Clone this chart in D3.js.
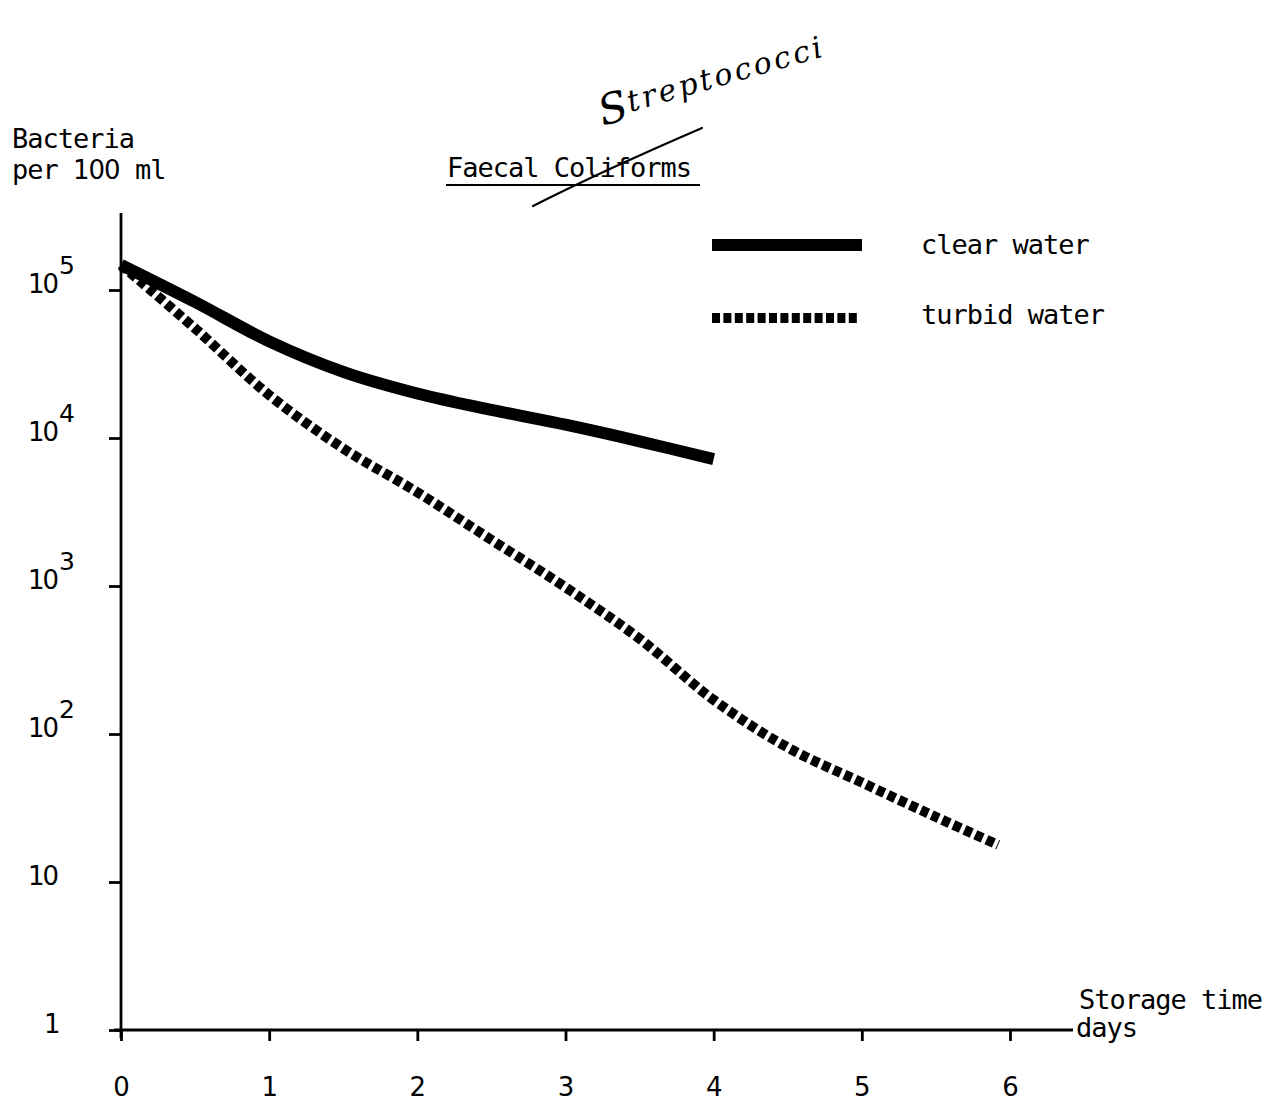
<!DOCTYPE html>
<html>
<head>
<meta charset="utf-8">
<script src="https://cdn.jsdelivr.net/npm/d3@7"></script>
<style>
  html, body { margin: 0; padding: 0; background: #fff; }
  svg { display: block; }
  .mono { font-family: "DejaVu Sans Mono", "Liberation Mono", monospace; fill: #000; letter-spacing: -1px; }
  .num { font-family: "DejaVu Sans", "Noto Sans", sans-serif; fill: #000; }
</style>
</head>
<body>
<svg id="chart" width="1270" height="1102"></svg>
<script>
// Survival of faecal coliforms in stored water (log scale)
const clearDays   = [0, 0.5, 1, 1.5, 2, 2.5, 3, 3.5, 4];
const clearValues = [148000, 83000, 45000, 28000, 20000, 15500, 12300, 9500, 7200];

const turbidDays   = [0, 0.5, 1, 1.5, 2, 2.5, 3, 3.5, 4, 4.5, 5, 5.5, 5.92];
const turbidValues = [148000, 55000, 19500, 8500, 4300, 2050, 980, 440, 170, 81, 47, 27.5, 17.8];

const xTicks = [0, 1, 2, 3, 4, 5, 6];
const yTicks = [1, 10, 100, 1000, 10000, 100000];
const yTickBase = ["1", "10", "10", "10", "10", "10"];
const yTickExp  = ["", "", "2", "3", "4", "5"];

const seriesNames = ["clear water", "turbid water"];

const svg = d3.select("#chart");

const x = d3.scaleLinear().domain([0, 6]).range([121, 1010]);
const y = d3.scaleLog().domain([1, 100000]).range([1030, 290]);

const axisStroke = 2.8;

// y axis
const yAxis = svg.append("g").attr("transform", "translate(121,0)")
  .call(d3.axisLeft(y).tickValues(yTicks).tickSize(12).tickFormat(""));
yAxis.select(".domain").remove();
yAxis.selectAll(".tick line").attr("stroke", "#000").attr("stroke-width", axisStroke);
svg.append("line")
  .attr("x1", 121).attr("x2", 121)
  .attr("y1", 213).attr("y2", y(1) + 8)
  .attr("stroke", "#000").attr("stroke-width", axisStroke);

// y tick labels with superscript exponents
yTicks.forEach((v, i) => {
  const t = svg.append("text").attr("class", "num")
    .attr("x", yTickBase[i] === "1" ? 44 : 28)
    .attr("y", y(v) + 3)
    .attr("font-size", 26)
    .attr("letter-spacing", -2)
    .text(yTickBase[i]);
  if (yTickExp[i]) {
    t.append("tspan").attr("dy", -19).attr("dx", 2).attr("font-size", 25).text(yTickExp[i]);
  }
});

// x axis
const xAxis = svg.append("g").attr("transform", `translate(0,${y(1)})`)
  .call(d3.axisBottom(x).tickValues(xTicks).tickSize(11).tickSizeOuter(0).tickFormat(d3.format("d")));
xAxis.select(".domain").remove();
xAxis.selectAll(".tick line").attr("stroke", "#000").attr("stroke-width", axisStroke);
xAxis.selectAll(".tick text")
  .attr("class", "num")
  .attr("font-size", 26)
  .attr("fill", "#000")
  .attr("dy", null)
  .attr("y", 66);
svg.append("line")
  .attr("x1", 114).attr("x2", 1073)
  .attr("y1", y(1)).attr("y2", y(1))
  .attr("stroke", "#000").attr("stroke-width", axisStroke);

// axis titles
svg.append("text").attr("class", "mono").attr("x", 12).attr("y", 148).attr("font-size", 27).text("Bacteria");
const perText = svg.append("text").attr("class", "mono").attr("x", 12).attr("y", 179).attr("font-size", 27);
perText.append("tspan").text("per ");
perText.append("tspan").attr("class", "num").attr("font-size", 26).attr("letter-spacing", -1).text("100");
perText.append("tspan").text(" ml");
svg.append("text").attr("class", "mono").attr("x", 1079).attr("y", 1009).attr("font-size", 27).text("Storage time");
svg.append("text").attr("class", "mono").attr("x", 1076).attr("y", 1037).attr("font-size", 27).text("days");

// title, underlined
svg.append("text").attr("class", "mono").attr("x", 447).attr("y", 177).attr("font-size", 27).text("Faecal Coliforms");
svg.append("line").attr("x1", 446).attr("x2", 700).attr("y1", 185).attr("y2", 185)
  .attr("stroke", "#000").attr("stroke-width", 2.2);

// pen correction over the title
svg.append("path")
  .attr("d", "M533,206 Q600,172 702,128")
  .attr("fill", "none").attr("stroke", "#000").attr("stroke-width", 2.2).attr("stroke-linecap", "round");
const hand = svg.append("g").attr("transform", "translate(603,126) rotate(-16)");
hand.append("text")
  .attr("font-family", "DejaVu Serif, serif").attr("font-style", "italic").attr("font-weight", 200)
  .attr("font-size", 42).attr("x", 0).attr("y", 0).text("S");
hand.append("text")
  .attr("font-family", "DejaVu Serif, serif").attr("font-style", "italic").attr("font-weight", 200)
  .attr("font-size", 30).attr("letter-spacing", 3).attr("x", 30).attr("y", -6).text("treptococci");

// series lines
const line = d3.line().x(d => x(d[0])).y(d => y(d[1])).curve(d3.curveCatmullRom.alpha(0.5));

const clearData = clearDays.map((d, i) => [d, clearValues[i]]);
const turbidData = turbidDays.map((d, i) => [d, turbidValues[i]]);

svg.append("path").datum(clearData)
  .attr("d", line)
  .attr("fill", "none").attr("stroke", "#000").attr("stroke-width", 12)
  .attr("stroke-linecap", "butt").attr("stroke-linejoin", "round");

svg.append("path").datum(turbidData)
  .attr("d", line)
  .attr("fill", "none").attr("stroke", "#000").attr("stroke-width", 10)
  .attr("stroke-dasharray", "8 4").attr("stroke-linecap", "butt");

// legend
const legend = svg.append("g");
legend.append("line").attr("x1", 712).attr("x2", 862).attr("y1", 245).attr("y2", 245)
  .attr("stroke", "#000").attr("stroke-width", 12);
legend.append("line").attr("x1", 712).attr("x2", 860).attr("y1", 318).attr("y2", 318)
  .attr("stroke", "#000").attr("stroke-width", 10).attr("stroke-dasharray", "8 3.4");
legend.append("text").attr("class", "mono").attr("x", 921).attr("y", 254).attr("font-size", 27).text(seriesNames[0]);
legend.append("text").attr("class", "mono").attr("x", 921).attr("y", 324).attr("font-size", 27).text(seriesNames[1]);
</script>
</body>
</html>
